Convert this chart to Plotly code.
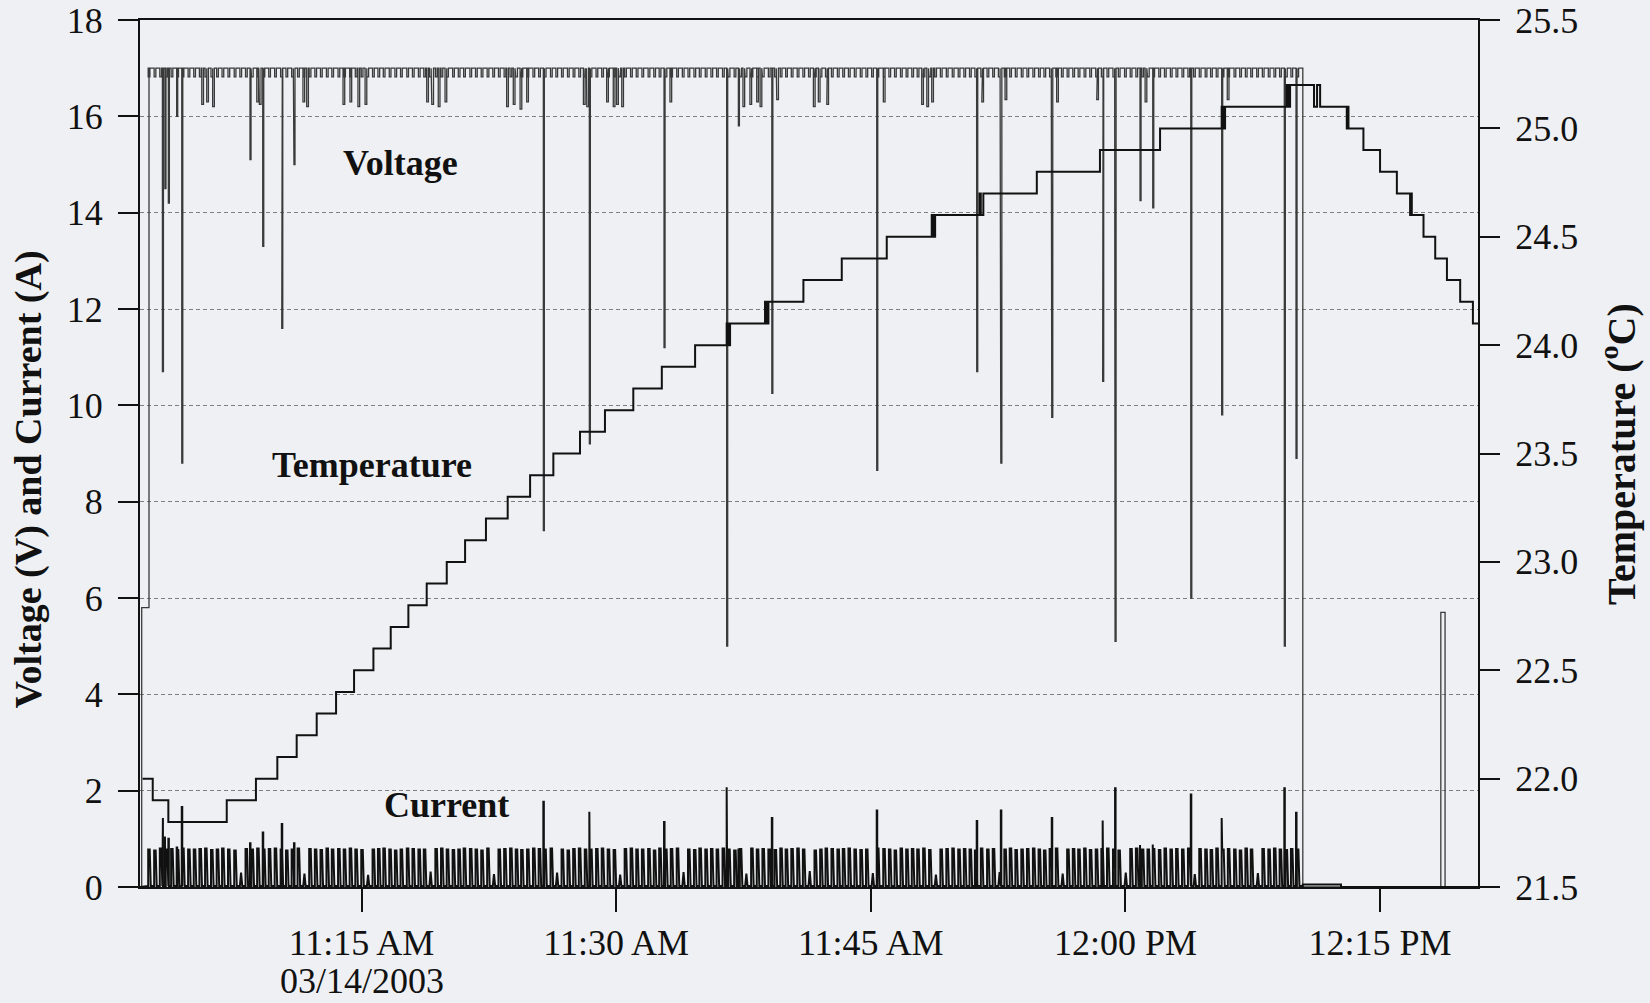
import numpy as np
import pandas as pd
import plotly.graph_objects as go

T0 = pd.Timestamp("2003-03-14 11:00:00")

# ---------------- data (time in minutes after 11:00 AM) ----------------
# Temperature record (deg C), step-wise sensor output
temp_min = [2.10, 2.70, 3.62, 7.06, 8.78, 10.04, 11.18, 12.36, 13.50, 14.56,
            15.70, 16.72, 17.76, 18.84, 20.02, 21.10, 22.33, 23.61, 24.93, 26.30,
            27.87, 29.34, 31.01, 32.69, 34.65,
            36.51, 36.56, 36.61, 36.66, 36.71,
            38.77, 38.82, 38.87, 38.92, 38.97,
            41.03, 43.29, 45.94,
            48.59, 48.64, 48.69, 48.74, 48.79,
            51.40, 51.48, 51.63, 54.78, 58.50, 62.04,
            65.67, 65.72, 65.77, 65.82, 65.87,
            69.50, 69.55, 69.60, 69.65, 69.70,
            71.11, 71.29, 71.47,
            73.04, 73.09, 73.14,
            74.02, 75.00, 75.99, 76.77, 76.82, 76.87, 77.56, 78.25, 78.94, 79.72,
            80.47, 80.77]
temp_c = [22.0, 21.9, 21.8, 21.9, 22.0, 22.1, 22.2, 22.3, 22.4, 22.5,
          22.6, 22.7, 22.8, 22.9, 23.0, 23.1, 23.2, 23.3, 23.4, 23.5,
          23.6, 23.7, 23.8, 23.9, 24.0,
          24.1, 24.0, 24.1, 24.0, 24.1,
          24.2, 24.1, 24.2, 24.1, 24.2,
          24.3, 24.4, 24.5,
          24.6, 24.5, 24.6, 24.5, 24.6,
          24.7, 24.6, 24.7, 24.8, 24.9, 25.0,
          25.1, 25.0, 25.1, 25.0, 25.1,
          25.2, 25.1, 25.2, 25.1, 25.2,
          25.1, 25.2, 25.1,
          25.0, 25.1, 25.0,
          24.9, 24.8, 24.7, 24.6, 24.7, 24.6, 24.5, 24.4, 24.3, 24.2,
          24.1, 24.1]

# Regular load pulses: first pulse (s after 11:00) and gaps between pulses (s)
pulse_first_s = 146
pulse_gap_s = [
    21, 20, 21, 19, 20, 19, 21, 20, 20, 20, 21, 20, 19, 21, 22, 20, 20, 21, 20, 21,
    20, 21, 21, 19, 20, 21, 20, 21, 20, 20, 21, 19, 22, 20, 21, 20, 21, 20, 20, 19,
    19, 21, 20, 20, 22, 20, 21, 19, 20, 21, 20, 20, 21, 20, 19, 22, 20, 20, 21, 20,
    20, 20, 21, 20, 19, 21, 21, 20, 20, 22, 19, 20, 21, 20, 20, 21, 19, 21, 20, 21,
    21, 19, 20, 21, 20, 20, 22, 20, 19, 21, 20, 21, 20, 20, 21, 19, 21, 20, 20, 21,
    20, 21, 20, 19, 21, 20, 20, 21, 22, 20, 19, 20, 21, 20, 20, 21, 20, 19, 21, 21,
    19, 20, 21, 21, 20, 20, 19, 22, 20, 20, 21, 20, 20, 19, 21, 21, 20, 20, 21, 21,
    21, 20, 20, 19, 21, 22, 20, 20, 21, 19, 20, 21, 20, 21, 20, 19, 20, 22, 20, 20,
    20, 19, 21, 20, 21, 20, 20, 21, 19, 22, 20, 20, 21, 20, 19, 21, 20, 21, 20, 21,
    21, 20, 20, 21, 19, 20, 21, 20, 22, 20, 20, 19, 21, 20, 21, 20, 20, 21, 19, 21]
# Peak current of each regular pulse (A)
pulse_amp = [
    0.78, 0.76, 0.80, 0.78, 0.79, 0.77, 0.80, 0.78, 0.78, 0.79, 0.80, 0.77, 0.78, 0.80, 0.78, 0.76, 0.30, 0.79, 0.78, 0.80,
    0.78, 0.79, 0.80, 0.78, 0.76, 0.78, 0.80, 0.28, 0.79, 0.78, 0.77, 0.80, 0.78, 0.79, 0.78, 0.80, 0.78, 0.77, 0.25, 0.78,
    0.79, 0.80, 0.78, 0.76, 0.78, 0.80, 0.79, 0.78, 0.78, 0.32, 0.79, 0.80, 0.78, 0.77, 0.78, 0.80, 0.79, 0.78, 0.76, 0.80,
    0.27, 0.78, 0.79, 0.80, 0.78, 0.77, 0.78, 0.80, 0.79, 0.78, 0.80, 0.30, 0.78, 0.76, 0.79, 0.80, 0.78, 0.78, 0.79, 0.80,
    0.78, 0.77, 0.26, 0.79, 0.80, 0.78, 0.78, 0.79, 0.76, 0.80, 0.78, 0.79, 0.80, 0.31, 0.78, 0.77, 0.80, 0.78, 0.79, 0.78,
    0.80, 0.78, 0.76, 0.79, 0.28, 0.80, 0.78, 0.79, 0.78, 0.77, 0.80, 0.78, 0.79, 0.80, 0.78, 0.33, 0.76, 0.78, 0.80, 0.79,
    0.78, 0.79, 0.80, 0.78, 0.77, 0.78, 0.29, 0.80, 0.79, 0.78, 0.76, 0.80, 0.78, 0.79, 0.78, 0.80, 0.77, 0.26, 0.78, 0.79,
    0.80, 0.78, 0.79, 0.78, 0.76, 0.80, 0.78, 0.79, 0.31, 0.78, 0.80, 0.77, 0.78, 0.79, 0.80, 0.78, 0.76, 0.79, 0.80, 0.28,
    0.78, 0.79, 0.78, 0.80, 0.77, 0.78, 0.79, 0.80, 0.78, 0.76, 0.30, 0.79, 0.80, 0.78, 0.78, 0.79, 0.77, 0.80, 0.78, 0.79,
    0.78, 0.80, 0.27, 0.79, 0.78, 0.77, 0.80, 0.78, 0.79, 0.78, 0.76, 0.80, 0.78, 0.29, 0.79, 0.78, 0.80, 0.78, 0.77, 0.79,
    0.78]
v_supply = 17.0      # supply voltage between pulses (V)
pulse_v = 16.82      # voltage during a regular pulse (V)
i_idle = 0.02        # current between pulses (A)

# Medium voltage sags (V)
mid_dip_min = [5.59, 5.88, 6.23, 8.83, 8.98, 11.55, 11.77, 13.91, 14.32, 14.79, 15.21,
               18.84, 19.14, 19.52, 19.92, 23.55, 23.94, 24.34, 24.73, 28.07, 28.27,
               29.44, 29.83, 30.03, 30.33, 33.17, 37.47, 37.88, 38.28, 38.48, 39.46,
               41.62, 41.91, 42.41, 45.74, 48.00, 48.30, 48.59, 51.54, 52.91, 55.95,
               58.31, 61.16, 66.00]
mid_dip_v = [16.25, 16.3, 16.2, 16.3, 16.25, 16.3, 16.2, 16.25, 16.3, 16.2, 16.25,
             16.3, 16.25, 16.2, 16.3, 16.2, 16.25, 16.15, 16.3, 16.25, 16.2,
             16.3, 16.2, 16.25, 16.2, 16.3, 16.2, 16.25, 16.3, 16.2, 16.35,
             16.2, 16.3, 16.25, 16.3, 16.25, 16.2, 16.3, 16.3, 16.35, 16.3,
             16.35, 16.3, 16.35]

# Deep voltage drops (V) and the matching current surges (A)
deep_min = [3.27, 3.42, 3.62, 4.11, 4.41, 8.43, 9.18, 10.30, 11.02, 25.71, 28.42,
            32.82, 36.51, 37.20, 39.17, 45.35, 51.24, 52.66, 55.66, 58.66, 59.39,
            60.86, 61.61, 63.85, 65.67, 69.36, 70.05]
deep_v = [10.7, 14.5, 14.2, 16.0, 8.8, 15.1, 13.3, 11.6, 15.0, 7.4, 9.2,
          11.2, 5.0, 15.8, 10.25, 8.65, 10.7, 8.8, 9.75, 10.5, 5.1,
          14.25, 14.1, 6.0, 9.8, 5.0, 8.9]
deep_i = [1.43, 1.05, 1.00, 0.82, 1.66, 0.91, 1.13, 1.31, 0.91, 1.77, 1.56,
          1.35, 2.07, 0.80, 1.43, 1.59, 1.37, 1.59, 1.43, 1.38, 2.05,
          0.87, 0.88, 1.92, 1.43, 2.05, 1.54]

# Start-up and shut-down of the supply
startup_min = [1.95, 2.05, 2.05, 2.48, 2.48]
startup_v = [0.0, 0.0, 5.8, 5.8, 17.0]
shutdown_min = [70.45, 70.45, 78.58, 78.58, 78.83, 78.83, 80.77]
shutdown_v = [17.0, 0.0, 0.0, 5.7, 5.7, 0.0, 0.0]
current_off_min = [70.45, 70.45, 72.70, 72.70, 80.77]
current_off_a = [0.02, 0.05, 0.05, 0.0, 0.0]

x_range_min = [1.95, 80.77]
tick_min = [15, 30, 45, 60, 75]
tick_text = ["11:15 AM", "11:30 AM", "11:45 AM", "12:00 PM", "12:15 PM"]
date_text = "03/14/2003"

# ---------------- build traces ----------------
def tm(m):
    return T0 + pd.to_timedelta(np.asarray(m, dtype=float), unit="min")

pulse_s = pulse_first_s + np.concatenate([[0], np.cumsum(pulse_gap_s)])
pulse_min = pulse_s / 60.0

v_events = [(t, pulse_v, 0.10) for t in pulse_min]
v_events += [(t, v, 0.10) for t, v in zip(mid_dip_min, mid_dip_v)]
v_events += [(t, v, 0.06) for t, v in zip(deep_min, deep_v)]
v_events.sort()
vx, vy = list(startup_min), list(startup_v)
for t, v, w in v_events:
    vx += [t, t, t + w, t + w]
    vy += [v_supply, v, v, v_supply]
vx += shutdown_min
vy += shutdown_v

i_events = [(t, a, "p") for t, a in zip(pulse_min, pulse_amp)]
i_events += [(t, a, "s") for t, a in zip(deep_min, deep_i)]
i_events.sort()
ix, iy = [1.95], [0.0]
for t, a, k in i_events:
    if k == "s":
        ix += [t, t, t + 0.03, t + 0.03]
    elif a < 0.5:   # partially captured pulse: small triangle
        ix += [t, t + 0.07, t + 0.07, t + 0.14]
    else:
        ix += [t, t, t + 0.09, t + 0.15]
    iy += [i_idle, a, a, i_idle]
ix += current_off_min
iy += current_off_a

SERIF = "Liberation Serif, Times New Roman, serif"
BG = "#eef0f3"

fig = go.Figure()
fig.add_trace(go.Scatter(x=tm(vx), y=vy, mode="lines", name="Voltage",
                         line=dict(color="#3a3a3a", width=1.3), hoverinfo="skip"))
fig.add_trace(go.Scatter(x=tm(ix), y=iy, mode="lines", name="Current",
                         line=dict(color="#111111", width=2.0), hoverinfo="skip"))
fig.add_trace(go.Scatter(x=tm(temp_min), y=temp_c, mode="lines", name="Temperature",
                         line=dict(color="#111111", width=2, shape="hv"),
                         yaxis="y2", hoverinfo="skip"))

fig.update_layout(
    width=1650, height=1003,
    margin=dict(l=140, r=172, t=20, b=116, autoexpand=False),
    paper_bgcolor=BG, plot_bgcolor=BG,
    showlegend=False,
    font=dict(family=SERIF, size=36, color="#111111"),
    xaxis=dict(type="date", range=list(tm(x_range_min)), automargin=False,
               tickvals=list(tm(tick_min)), ticktext=tick_text,
               ticks="outside", ticklen=23, tickwidth=2, tickcolor="#111",
               showline=True, linewidth=2, linecolor="#111", mirror=True,
               showgrid=False, zeroline=False, ticklabelstandoff=0,
               tickfont=dict(family=SERIF, size=36, color="#111")),
    yaxis=dict(range=[0, 18], dtick=2, ticks="outside", ticklen=20, tickwidth=2,
               tickcolor="#111", showline=True, linewidth=2, linecolor="#111",
               showgrid=True, gridcolor="#7f7f7f", gridwidth=1, griddash="4px,3px",
               zeroline=False, ticklabelstandoff=8, automargin=False,
               tickfont=dict(family=SERIF, size=36, color="#111")),
    yaxis2=dict(range=[21.5, 25.5], dtick=0.5, tickformat=".1f", overlaying="y",
                side="right", ticks="outside", ticklen=20, tickwidth=2,
                tickcolor="#111", showline=True, linewidth=2, linecolor="#111",
                showgrid=False, zeroline=False, ticklabelstandoff=8, automargin=False,
                tickfont=dict(family=SERIF, size=36, color="#111")),
)

ann = dict(showarrow=False, font=dict(family=SERIF, size=36, color="#111"))
fig.add_annotation(x=tm([17.27])[0], y=15.03, xref="x", yref="y",
                   text="<b>Voltage</b>", **ann)
fig.add_annotation(x=tm([15.59])[0], y=8.76, xref="x", yref="y",
                   text="<b>Temperature</b>", **ann)
fig.add_annotation(x=tm([19.98])[0], y=1.70, xref="x", yref="y",
                   text="<b>Current</b>", **ann)
# date line under the first time tick
fig.add_annotation(x=tm([tick_min[0]])[0], y=-0.1084, xref="x", yref="paper",
                   xanchor="center", yanchor="middle", text=date_text,
                   borderpad=0, **ann)
fig.add_annotation(x=-0.0826, y=0.4706, xref="paper", yref="paper",
                   xanchor="center", yanchor="middle", textangle=-90,
                   text="<b>Voltage (V) and Current (A)</b>",
                   showarrow=False, font=dict(family=SERIF, size=38, color="#111"))
fig.add_annotation(x=1.1046, y=0.4994, xref="paper", yref="paper",
                   xanchor="center", yanchor="middle", textangle=-90,
                   text="<b>Temperature (<sup>o</sup>C)</b>",
                   showarrow=False, font=dict(family=SERIF, size=40, color="#111"))

fig.write_html("out.html", config={"displayModeBar": False},
               post_script="document.body.style.margin='0';document.body.style.background='%s';" % BG)
